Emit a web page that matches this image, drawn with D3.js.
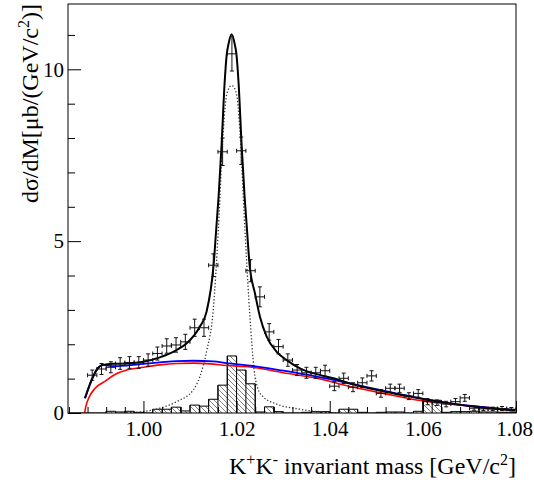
<!DOCTYPE html>
<html>
<head>
<meta charset="utf-8">
<script src="https://cdn.jsdelivr.net/npm/d3@7"></script>
<style>
  body { margin: 0; background: #fff; }
  svg { display: block; }
  text { font-family: "Liberation Serif", "DejaVu Serif", serif; fill: #000; }
</style>
</head>
<body>
<svg id="chart"></svg>
<script>
// data points (bin centres, GeV) with cross-section and errors
const massCenters = [0.989, 0.991, 0.993, 0.995, 0.997, 0.999, 1.001, 1.003, 1.005, 1.007,
  1.009, 1.011, 1.013, 1.015, 1.017, 1.019, 1.021, 1.023, 1.025, 1.027,
  1.029, 1.031, 1.033, 1.035, 1.037, 1.039, 1.041, 1.043, 1.045, 1.047,
  1.049, 1.051, 1.053, 1.055, 1.057, 1.059, 1.061, 1.063, 1.065, 1.067,
  1.069, 1.071, 1.073, 1.075, 1.077, 1.079];
const xsecValues = [1.10, 1.28, 1.33, 1.44, 1.47, 1.47, 1.54, 1.73, 1.95, 1.98,
  2.07, 2.48, 2.48, 4.30, 7.60, 10.45, 7.63, 4.14, 3.38, 2.36,
  1.93, 1.54, 1.25, 1.17, 1.17, 1.23, 0.78, 1.01, 0.75, 0.88,
  1.08, 0.57, 0.72, 0.72, 0.49, 0.57, 0.33, 0.30, 0.26, 0.33,
  0.44, 0.14, 0.12, 0.12, 0.13, 0.11];
const xsecErrors = [0.15, 0.16, 0.16, 0.17, 0.17, 0.17, 0.18, 0.19, 0.21, 0.21,
  0.22, 0.25, 0.25, 0.33, 0.40, 0.50, 0.40, 0.32, 0.29, 0.24,
  0.21, 0.18, 0.16, 0.16, 0.16, 0.16, 0.13, 0.15, 0.13, 0.14,
  0.15, 0.11, 0.12, 0.12, 0.10, 0.11, 0.09, 0.08, 0.08, 0.09,
  0.10, 0.06, 0.05, 0.05, 0.06, 0.05];
const binHalfWidth = 0.001;

// hatched background histogram (lower bin edges, width 0.002)
const histEdges = [0.984, 0.986, 0.988, 0.990, 0.992, 0.994, 0.996, 0.998, 1.000, 1.002,
  1.004, 1.006, 1.008, 1.010, 1.012, 1.014, 1.016, 1.018, 1.020, 1.022,
  1.024, 1.026, 1.028, 1.030, 1.032, 1.034, 1.036, 1.038, 1.040, 1.042,
  1.044, 1.046, 1.048, 1.050, 1.052, 1.054, 1.056, 1.058, 1.060, 1.062,
  1.064, 1.066, 1.068, 1.070, 1.072, 1.074, 1.076, 1.078];
const histValues = [0, 0, 0, 0, 0.05, 0.03, 0.05, 0.02, 0, 0.11,
  0.11, 0.17, 0.06, 0.23, 0.20, 0.40, 0.81, 1.66, 1.25, 0.85,
  0.03, 0.18, 0.04, 0, 0, 0.02, 0.04, 0.04, 0, 0.11,
  0.11, 0.02, 0, 0.02, 0.03, 0.03, 0, 0.05, 0.37, 0.37,
  0.02, 0.04, 0.04, 0.05, 0.03, 0.03, 0.02, 0.02];
const histBinWidth = 0.002;

// total fit (black)
const totalMass = [0.98744, 0.9890, 0.9900, 0.99137, 0.9935, 0.9964, 1.0000, 1.0035, 1.0071, 1.0093,
  1.0121, 1.01356, 1.01506, 1.01571, 1.01614, 1.01678, 1.01743, 1.01786, 1.01829, 1.01893,
  1.01957, 1.02000, 1.02043, 1.02108, 1.02172, 1.02215, 1.02280, 1.02395, 1.02502, 1.02646,
  1.02861, 1.03076, 1.03361, 1.03720, 1.04077, 1.04435, 1.0515, 1.05868, 1.06583, 1.07298, 1.07979];
const totalValues = [0.43, 1.00, 1.27, 1.40, 1.43, 1.44, 1.49, 1.62, 1.83, 2.03,
  2.51, 2.95, 4.30, 5.50, 6.30, 7.80, 9.60, 10.40, 10.75, 11.02,
  10.75, 10.40, 9.60, 7.80, 6.30, 5.50, 4.30, 3.48, 2.80, 2.22,
  1.78, 1.54, 1.30, 1.13, 1.01, 0.86, 0.63, 0.44, 0.28, 0.15, 0.08];

// phi signal (dotted)
const signalMass = [0.99639, 1.0000, 1.00354, 1.00713, 1.01070, 1.01213, 1.01357, 1.01499, 1.01607, 1.01714,
  1.01793, 1.01894, 1.01997, 1.02072, 1.02180, 1.02287, 1.02373, 1.02459, 1.02573, 1.02861,
  1.03361, 1.03720, 1.04149];
const signalValues = [0.0, 0.04, 0.14, 0.33, 0.67, 1.06, 1.80, 3.00, 5.30, 8.20,
  9.30, 9.53, 9.30, 8.20, 5.30, 2.80, 1.30, 0.70, 0.47, 0.26,
  0.11, 0.04, 0.0];

// background fit (blue)
const bkgMass = [0.98744, 0.9890, 0.98995, 0.99137, 0.99351, 0.99639, 1.0000, 1.00354, 1.00713, 1.0107,
  1.01499, 1.01787, 1.02287, 1.03003, 1.0372, 1.04435, 1.0515, 1.05868, 1.06583, 1.07298, 1.07979];
const bkgValues = [0.43, 1.00, 1.25, 1.40, 1.36, 1.38, 1.43, 1.47, 1.51, 1.52,
  1.50, 1.45, 1.38, 1.23, 1.06, 0.86, 0.65, 0.45, 0.28, 0.17, 0.09];

// phase-space MC (red)
const mcMass = [0.98736, 0.98765, 0.98822, 0.98963, 0.99173, 0.99388, 0.99639, 1.0000, 1.00354, 1.00713,
  1.01070, 1.01428, 1.01787, 1.02287, 1.03003, 1.0372, 1.04435, 1.0515, 1.05868, 1.06583, 1.07298, 1.07979];
const mcValues = [0.0, 0.20, 0.43, 0.72, 0.92, 1.12, 1.25, 1.33, 1.40, 1.44,
  1.45, 1.43, 1.38, 1.34, 1.17, 1.01, 0.77, 0.57, 0.38, 0.26, 0.17, 0.06];

const xTicks = [1.00, 1.02, 1.04, 1.06, 1.08];
const xMinorTicks = [0.984, 0.988, 0.992, 0.996, 1.004, 1.008, 1.012, 1.016, 1.024, 1.028, 1.032, 1.036,
  1.044, 1.048, 1.052, 1.056, 1.064, 1.068, 1.072, 1.076];
const yTicks = [0, 5, 10];
const yMinorTicks = [1, 2, 3, 4, 6, 7, 8, 9, 11];

const width = 534, height = 485;
const margin = { top: 4, right: 18, bottom: 72, left: 68 };
const plotW = width - margin.left - margin.right;
const plotH = height - margin.top - margin.bottom;

const svg = d3.select("#chart").attr("width", width).attr("height", height);

const x = d3.scaleLinear().domain([0.9838, 1.08]).range([0, plotW]);
const y = d3.scaleLinear().domain([0, 11.9]).range([plotH, 0]);

const defs = svg.append("defs");
const hatch = defs.append("pattern")
  .attr("id", "hatch")
  .attr("patternUnits", "userSpaceOnUse")
  .attr("width", 5).attr("height", 5);
hatch.append("path")
  .attr("d", "M-1,-1 L6,6 M-1,4 L1,6 M4,-1 L6,1")
  .attr("stroke", "#777").attr("stroke-width", 0.9);

defs.append("clipPath").attr("id", "plotClip")
  .append("rect").attr("width", plotW).attr("height", plotH);

const g = svg.append("g").attr("transform", `translate(${margin.left},${margin.top})`);
const plot = g.append("g").attr("clip-path", "url(#plotClip)");

// histogram
const histData = histEdges.map((e, i) => ({ lo: e, hi: e + histBinWidth, v: histValues[i] }));
const histPts = [];
histData.forEach(d => { histPts.push([d.lo, d.v]); histPts.push([d.hi, d.v]); });
const histArea = d3.area()
  .x(d => x(d[0])).y0(y(0)).y1(d => y(d[1]));
plot.append("path").datum(histPts)
  .attr("d", histArea).attr("fill", "url(#hatch)").attr("stroke", "none");
plot.append("path").datum(histPts)
  .attr("d", d3.line().x(d => x(d[0])).y(d => y(d[1])))
  .attr("fill", "none").attr("stroke", "#000").attr("stroke-width", 1);
plot.selectAll("line.hedge")
  .data(histData.slice(1))
  .join("line").attr("class", "hedge")
  .attr("x1", d => x(d.lo)).attr("x2", d => x(d.lo))
  .attr("y1", y(0))
  .attr("y2", (d, i) => y(Math.max(d.v, histData[i].v)))
  .attr("stroke", "#000").attr("stroke-width", 1);

const line = d3.line().curve(d3.curveMonotoneX).x(d => x(d[0])).y(d => y(d[1]));

plot.append("path").datum(d3.zip(signalMass, signalValues))
  .attr("d", line).attr("fill", "none")
  .attr("stroke", "#333").attr("stroke-width", 1.3).attr("stroke-dasharray", "1.3,2");

plot.append("path").datum(d3.zip(mcMass, mcValues))
  .attr("d", line).attr("fill", "none")
  .attr("stroke", "#ff0000").attr("stroke-width", 1.6);

plot.append("path").datum(d3.zip(bkgMass, bkgValues))
  .attr("d", line).attr("fill", "none")
  .attr("stroke", "#0000ff").attr("stroke-width", 1.8);

plot.append("path").datum(d3.zip(totalMass, totalValues))
  .attr("d", line).attr("fill", "none")
  .attr("stroke", "#000").attr("stroke-width", 2);

// data crosses
const points = massCenters.map((m, i) => ({ m, v: xsecValues[i], e: xsecErrors[i] }));
const cross = plot.selectAll("g.pt").data(points).join("g").attr("class", "pt")
  .attr("stroke", "#111").attr("stroke-width", 1);
cross.append("line")
  .attr("x1", d => x(d.m - binHalfWidth)).attr("x2", d => x(d.m + binHalfWidth))
  .attr("y1", d => y(d.v)).attr("y2", d => y(d.v));
cross.append("line")
  .attr("x1", d => x(d.m)).attr("x2", d => x(d.m))
  .attr("y1", d => y(d.v - d.e)).attr("y2", d => y(d.v + d.e));
[-1, 1].forEach(s => {
  cross.append("line")
    .attr("x1", d => x(d.m + s * binHalfWidth)).attr("x2", d => x(d.m + s * binHalfWidth))
    .attr("y1", d => y(d.v) - 2).attr("y2", d => y(d.v) + 2);
  cross.append("line")
    .attr("x1", d => x(d.m) - 2).attr("x2", d => x(d.m) + 2)
    .attr("y1", d => y(d.v + s * d.e)).attr("y2", d => y(d.v + s * d.e));
});

// axes
const xAxis = g.append("g").attr("transform", `translate(0,${plotH})`)
  .call(d3.axisBottom(x).tickValues(xTicks).tickSize(-12).tickPadding(8)
    .tickFormat(d3.format(".2f")));
const xMinor = g.append("g").attr("transform", `translate(0,${plotH})`)
  .call(d3.axisBottom(x).tickValues(xMinorTicks).tickSize(-6).tickFormat(""));
const yAxis = g.append("g")
  .call(d3.axisLeft(y).tickValues(yTicks).tickSize(-13).tickPadding(4));
const yMinor = g.append("g")
  .call(d3.axisLeft(y).tickValues(yMinorTicks).tickSize(-7).tickFormat(""));

[xAxis, xMinor, yAxis, yMinor].forEach(a => {
  a.select(".domain").remove();
  a.selectAll("line").attr("stroke", "#000").attr("stroke-width", 1);
  a.selectAll("text").attr("font-size", 21).attr("font-family", "Liberation Serif");
});
// keep the last label inside the page
xAxis.selectAll(".tick text").filter(d => d === 1.08).attr("dx", -2);

g.append("rect")
  .attr("width", plotW).attr("height", plotH)
  .attr("fill", "none").attr("stroke", "#000").attr("stroke-width", 1);

// titles
const xTitle = svg.append("text")
  .attr("x", margin.left + plotW).attr("y", 474)
  .attr("text-anchor", "end").attr("font-size", 24);
xTitle.append("tspan").text("K");
xTitle.append("tspan").attr("dy", -9).attr("font-size", 16).text("+");
xTitle.append("tspan").attr("dy", 9).text("K");
xTitle.append("tspan").attr("dy", -9).attr("font-size", 16).text("-");
xTitle.append("tspan").attr("dy", 9).text(" invariant mass [GeV/c");
xTitle.append("tspan").attr("dy", -9).attr("font-size", 16).text("2");
xTitle.append("tspan").attr("dy", 9).text("]");

const yTitle = svg.append("text")
  .attr("transform", `translate(38,${margin.top}) rotate(-90)`)
  .attr("text-anchor", "end").attr("font-size", 24);
yTitle.append("tspan").text("dσ/dM[μb/(GeV/c");
yTitle.append("tspan").attr("dy", -9).attr("font-size", 16).text("2");
yTitle.append("tspan").attr("dy", 9).text(")]");
</script>
</body>
</html>
